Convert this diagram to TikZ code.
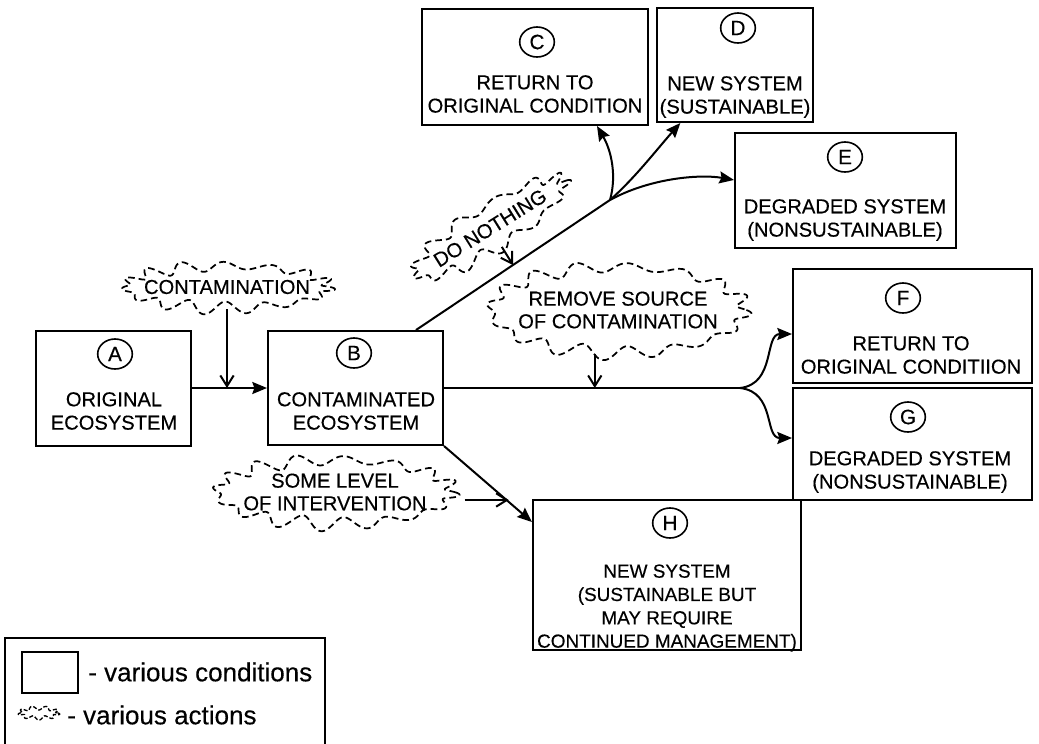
\documentclass[tikz,border=0pt]{standalone}
\usepackage{fontspec}
\setmainfont{Liberation Sans}[FakeBold=0.35]
\usetikzlibrary{shapes.geometric, arrows.meta}

% wavy dashed outline of an action: centre x, centre y, half width, half height,
% wave amplitude, number of waves, turn angle
\newcommand{\actionoutline}[7]{%
  \draw[cloudedge, rotate around={#7:(#1,#2)}]
    plot[domain=0:360, samples=400, variable=\t]
      ({#1 + (#3 + #5*sin(#6*\t) + 0.4*#5*sin((#6+3)*\t+40))*cos(\t)},
       {#2 + (#4 + #5*sin(#6*\t) + 0.4*#5*sin((#6+3)*\t+40))*sin(\t)}) -- cycle;}

\begin{document}
\begin{tikzpicture}[x=0.75pt, y=-0.75pt,
  cond/.style={draw, rectangle, line width=1.5pt, inner sep=0pt},
  tagmark/.style={draw, ellipse, line width=1.2pt, inner sep=0pt,
    minimum width=26pt, minimum height=22.5pt, font=\fontsize{15.5}{17}\selectfont},
  boxtext/.style={align=center, inner sep=0pt, font=\fontsize{15.1}{17.5}\selectfont},
  actnode/.style={ellipse, inner sep=0pt, align=center, font=\fontsize{15.1}{17}\selectfont},
  cloudedge/.style={line width=1.3pt, dash pattern=on 5pt off 3pt, line join=round},
  wire/.style={line width=1.5pt},
  flow/.style={wire, -{Stealth[length=11pt, width=9pt, inset=1.5pt]}},
  act/.style={wire, -{Straight Barb[length=8pt, width=10pt]}},
  legendtext/.style={anchor=west, inner sep=0pt, font=\fontsize{19.5}{22}\selectfont}
]
\useasboundingbox (0,0) rectangle (1039,743);

% condition boxes
\node[cond, minimum width=116.25pt, minimum height=86.25pt] (bA) at (113.5,388.5) {};
\node[cond, minimum width=131.25pt, minimum height=85.5pt]  (bB) at (355.5,388) {};
\node[cond, minimum width=169.5pt,  minimum height=87pt]    (bC) at (535,67) {};
\node[cond, minimum width=117pt,    minimum height=85.5pt]  (bD) at (735,65) {};
\node[cond, minimum width=165.75pt, minimum height=86.25pt] (bE) at (845.5,190.5) {};
\node[cond, minimum width=179.25pt, minimum height=85.5pt]  (bF) at (912.5,326) {};
\node[cond, minimum width=179.25pt, minimum height=84pt]    (bG) at (912.5,444) {};
\node[cond, minimum width=201pt,    minimum height=112.5pt] (bH) at (667,575) {};

% letter tags
\node[tagmark] (tA) at (115,354) {A};
\node[tagmark] (tB) at (354,353) {B};
\node[tagmark] (tC) at (537,42) {C};
\node[tagmark] (tD) at (738,28) {D};
\node[tagmark] (tE) at (845,157) {E};
\node[tagmark] (tF) at (903,298) {F};
\node[tagmark] (tG) at (908,417) {G};
\node[tagmark] (tH) at (670,523) {H};

% box captions
\node[boxtext] (xA) at (114,411) {ORIGINAL\\ECOSYSTEM};
\node[boxtext] (xB) at (356,411) {CONTAMINATED\\ECOSYSTEM};
\node[boxtext] (xC) at (535,94) {RETURN TO\\ORIGINAL CONDITION};
\node[boxtext] (xD) at (735,97) {NEW SYSTEM\\(SUSTAINABLE)};
\node[boxtext] (xE) at (845,220) {DEGRADED SYSTEM\\(NONSUSTAINABLE)};
\node[boxtext] (xF) at (911,355) {RETURN TO\\ORIGINAL CONDITIION};
\node[boxtext] (xG) at (910,472) {DEGRADED SYSTEM\\(NONSUSTAINABLE)};
\node[boxtext, font=\fontsize{14.2}{17.5}\selectfont] (xH) at (667,608)
  {NEW SYSTEM\\(SUSTAINABLE BUT\\MAY REQUIRE\\CONTINUED MANAGEMENT)};

% actions
\node[actnode, minimum width=154.5pt, minimum height=33pt] (aCont) at (227,287) {CONTAMINATION};
\actionoutline{227}{287}{102}{21}{5}{15}{0}
\node[actnode, minimum width=132pt, minimum height=33pt, rotate=32] (aNone) at (490,228) {DO NOTHING};
\actionoutline{490}{228}{88}{21}{5}{13}{32}
\node[actnode, minimum width=190.5pt, minimum height=66pt] (aRem) at (618,310) {REMOVE SOURCE\\OF CONTAMINATION};
\actionoutline{618}{310}{127}{43}{5.5}{16}{0}
\node[actnode, minimum width=177pt, minimum height=49.5pt] (aInt) at (335,492) {SOME LEVEL\\OF INTERVENTION};
\actionoutline{335}{492}{118}{32}{5.5}{16}{0}

% branching points
\coordinate (forkUp) at (610,200);
\coordinate (forkRight) at (740,388);
\coordinate (noneHit) at (513,265);
\coordinate (intHit) at (508.7,500);

% A to B, with contamination
\draw[flow] (bA.east |- bB.west) -- (bB.west);
\draw[act] (aCont.south) -- (aCont.south |- bB.west);

% B upward: do nothing
\draw[wire] ([xshift=-21pt]bB.north east) -- (forkUp);
\draw[act] (aNone.south) -- (noneHit);
\draw[flow] (forkUp) .. controls (617,175) and (611,150) .. ([xshift=46.5pt]bC.south);
\draw[flow] (forkUp) .. controls (635,178) and (658,148) .. ([xshift=-41pt]bD.south);
\draw[flow] (forkUp) .. controls (650,178) and (700,174) .. ([yshift=7.9pt]bE.west);

% B rightward: remove source
\draw[wire] (bB.east) -- (forkRight);
\draw[act] (aRem.242) -- (aRem.242 |- bB.east);
\draw[flow] (forkRight) .. controls (776,384) and (764,334) .. ([yshift=-6pt]bF.west);
\draw[flow] (forkRight) .. controls (776,392) and (764,438) .. ([yshift=4.5pt]bG.west);

% B downward: intervention
\draw[flow] (bB.south east) -- ([yshift=39.75pt]bH.west);
\draw[act] (aInt.east |- intHit) -- (intHit);

% legend
\draw[wire] (5,750) -- (5,638) -- (325,638) -- (325,750);
\node[cond, minimum width=42pt, minimum height=30.75pt] (lgBox) at (50,672.5) {};
\node[legendtext] (lgBoxText) at (88,672) {- various conditions};
\node[ellipse, inner sep=0pt, minimum width=30pt, minimum height=9pt] (lgCloud) at (39,713) {};
\draw[line width=1pt, dash pattern=on 3pt off 1.5pt]
  plot[domain=0:360, samples=200, variable=\t]
    ({39 + (19 + 2*sin(9*\t))*cos(\t)}, {713 + (5 + 2*sin(9*\t))*sin(\t)}) -- cycle;
\node[legendtext] (lgCloudText) at (67,715) {- various actions};
\end{tikzpicture}
\end{document}
